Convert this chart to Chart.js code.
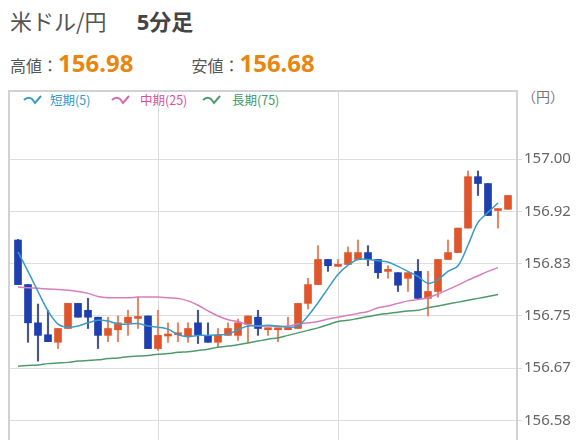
<!DOCTYPE html>
<html>
<head>
<meta charset="utf-8">
<script src="https://cdn.jsdelivr.net/npm/chart.js@4.4.0/dist/chart.umd.min.js"></script>
<style>
html, body { margin: 0; padding: 0; background: #fff; overflow: hidden; width: 576px; height: 440px;
  font-family: "Noto Sans", "Noto Sans CJK JP", sans-serif; }
#title { position: absolute; left: 10px; top: 4px; font-size: 22px; color: #555; white-space: nowrap; font-family: "Noto Sans CJK JP", sans-serif; }
#title b { margin-left: 30px; color: #444; font-family: "Noto Sans", "Noto Sans CJK JP", sans-serif; }
#hilo { position: absolute; left: 10px; top: 46px; white-space: nowrap; color: #555; font-size: 16px; }
#hilo .k { font-family: "Noto Sans CJK JP", sans-serif; }
#hilo .v { font-size: 24px; font-weight: bold; color: #e8860f; font-family: "Noto Sans", sans-serif; }
#hilo .gap { display: inline-block; width: 58px; }
.lg { position: absolute; top: 90px; font-size: 12.5px; white-space: nowrap; font-family: "Noto Sans CJK JP", sans-serif; }
.lg svg { position: absolute; top: 3px; }
#unit { position: absolute; left: 522px; top: 86px; font-size: 14px; color: #777; font-family: "Noto Sans CJK JP", sans-serif; }
#wrap { position: absolute; left: 0; top: 80px; width: 576px; height: 390px; }
</style>
</head>
<body>
<div id="title">米ドル/円<b>5分足</b></div>
<div id="hilo"><span class="k">高値：</span><span class="v">156.98</span><span class="gap"></span><span class="k">安値：</span><span class="v">156.68</span></div>
<div class="lg" style="left:23px"><svg width="21" height="12"><path d="M1 7 Q5 3 9 6 L12 10 L18 3" fill="none" stroke="#3b9ac7" stroke-width="2"/></svg><span style="position:absolute;left:27px;color:#2f98cf">短期(5)</span></div>
<div class="lg" style="left:111px"><svg width="21" height="12"><path d="M1 7 Q5 3 9 6 L12 10 L18 3" fill="none" stroke="#d868ad" stroke-width="2"/></svg><span style="position:absolute;left:29px;color:#e0509a">中期(25)</span></div>
<div class="lg" style="left:202px"><svg width="21" height="12"><path d="M1 7 Q5 3 9 6 L12 10 L18 3" fill="none" stroke="#4f9a6d" stroke-width="2"/></svg><span style="position:absolute;left:30px;color:#3c9a68">長期(75)</span></div>
<div id="unit">（円）</div>
<div id="wrap"><canvas id="candleChart" width="576" height="390"></canvas></div>
<script>
// 5分足 ローソク足データ
const opens = [156.871, 156.800, 156.739, 156.720, 156.708, 156.730, 156.770, 156.759, 156.748, 156.719,
  156.728, 156.739, 156.746, 156.750, 156.698, 156.718, 156.720, 156.717, 156.739, 156.719,
  156.708, 156.719, 156.719, 156.737, 156.748, 156.728, 156.728, 156.728, 156.730, 156.770,
  156.800, 156.840, 156.829, 156.832, 156.840, 156.851, 156.840, 156.821, 156.819, 156.810,
  156.821, 156.778, 156.789, 156.840, 156.851, 156.890, 156.972, 156.961, 156.918, 156.920];
const highs = [156.872, 156.800, 156.769, 156.759, 156.730, 156.770, 156.770, 156.778, 156.748, 156.748,
  156.750, 156.759, 156.780, 156.750, 156.759, 156.739, 156.739, 156.739, 156.759, 156.739,
  156.730, 156.739, 156.745, 156.750, 156.759, 156.731, 156.731, 156.748, 156.770, 156.810,
  156.862, 156.840, 156.840, 156.860, 156.871, 156.862, 156.840, 156.830, 156.819, 156.819,
  156.840, 156.821, 156.840, 156.871, 156.890, 156.981, 156.981, 156.961, 156.920, 156.942];
const lows = [156.800, 156.708, 156.678, 156.709, 156.698, 156.730, 156.748, 156.730, 156.698, 156.709,
  156.709, 156.719, 156.730, 156.698, 156.695, 156.708, 156.709, 156.708, 156.706, 156.708,
  156.700, 156.719, 156.711, 156.708, 156.719, 156.719, 156.709, 156.728, 156.730, 156.761,
  156.800, 156.821, 156.829, 156.832, 156.840, 156.830, 156.810, 156.810, 156.789, 156.789,
  156.778, 156.750, 156.780, 156.840, 156.851, 156.890, 156.942, 156.910, 156.890, 156.920];
const closes = [156.800, 156.739, 156.719, 156.709, 156.730, 156.770, 156.748, 156.748, 156.719, 156.730,
  156.739, 156.748, 156.749, 156.698, 156.719, 156.720, 156.723, 156.730, 156.720, 156.708,
  156.719, 156.730, 156.739, 156.750, 156.730, 156.731, 156.731, 156.731, 156.770, 156.800,
  156.840, 156.830, 156.831, 156.851, 156.851, 156.840, 156.819, 156.823, 156.799, 156.819,
  156.778, 156.789, 156.840, 156.851, 156.890, 156.972, 156.961, 156.910, 156.920, 156.942];

// 移動平均線
const shortMA = [156.852, 156.821, 156.789, 156.758, 156.737, 156.732, 156.734, 156.739, 156.743, 156.742,
  156.737, 156.737, 156.738, 156.734, 156.732, 156.729, 156.720, 156.717, 156.719, 156.719,
  156.720, 156.721, 156.728, 156.734, 156.734, 156.735, 156.734, 156.732, 156.734, 156.750,
  156.771, 156.794, 156.816, 156.831, 156.840, 156.840, 156.838, 156.836, 156.829, 156.821,
  156.813, 156.802, 156.808, 156.821, 156.830, 156.863, 156.899, 156.915, 156.930, null];
const midMA = [156.796, 156.795, 156.794, 156.793, 156.792, 156.791, 156.789, 156.786, 156.781, 156.779,
  156.779, 156.779, 156.780, 156.780, 156.780, 156.779, 156.778, 156.774, 156.767, 156.758,
  156.750, 156.744, 156.741, 156.736, 156.734, 156.734, 156.733, 156.734, 156.737, 156.739,
  156.741, 156.745, 156.748, 156.751, 156.754, 156.757, 156.763, 156.766, 156.770, 156.774,
  156.776, 156.779, 156.785, 156.792, 156.799, 156.807, 156.814, 156.821, 156.827, null];
const longMA = [156.670, 156.671, 156.672, 156.674, 156.675, 156.676, 156.678, 156.679, 156.680, 156.682,
  156.683, 156.685, 156.686, 156.687, 156.689, 156.690, 156.692, 156.693, 156.695, 156.697,
  156.700, 156.702, 156.704, 156.707, 156.710, 156.713, 156.715, 156.719, 156.723, 156.727,
  156.731, 156.736, 156.741, 156.743, 156.746, 156.749, 156.752, 156.754, 156.756, 156.758,
  156.759, 156.763, 156.766, 156.769, 156.772, 156.775, 156.778, 156.781, 156.784, null];

// 目盛り
const yTicks = [157.0, 156.9167, 156.8333, 156.75, 156.6667, 156.5833];
const xGridAt = [14, 32];

const RED = '#e0562c', BLUE = '#1e3fae';
const isUp = opens.map((o, i) => closes[i] >= o);
const bodies = opens.map((o, i) => ({ x: i, y: [o, closes[i]] }));
const wicks = opens.map((o, i) => ({ x: i, y: [lows[i], highs[i]] }));
const pts = arr => arr.map((v, i) => ({ x: i, y: v }));

// 枠線
const frame = {
  id: 'frame',
  beforeDatasetsDraw(chart) {
    const a = chart.chartArea, ctx = chart.ctx;
    ctx.save();
    ctx.strokeStyle = '#d2d2d2';
    ctx.lineWidth = 2;
    ctx.beginPath();
    ctx.moveTo(a.left, a.bottom + 20);
    ctx.lineTo(a.left, a.top);
    ctx.lineTo(a.right, a.top);
    ctx.lineTo(a.right, a.bottom + 20);
    ctx.stroke();
    ctx.restore();
  }
};

const ctx = document.getElementById('candleChart').getContext('2d');
const candleChart = new Chart(ctx, {
  type: 'bar',
  data: {
    datasets: [
      { type: 'line', label: '短期(5)', data: pts(shortMA), borderColor: '#3b9ac7', borderWidth: 1.5, pointRadius: 0, tension: 0.35, order: 0 },
      { type: 'line', label: '中期(25)', data: pts(midMA), borderColor: '#d77fbd', borderWidth: 1.5, pointRadius: 0, tension: 0.35, order: 0 },
      { type: 'line', label: '長期(75)', data: pts(longMA), borderColor: '#4f9a6d', borderWidth: 1.5, pointRadius: 0, tension: 0.35, order: 0 },
      { label: 'body', data: bodies, backgroundColor: isUp.map(u => u ? RED : BLUE), barThickness: 7, minBarLength: 2, grouped: false, order: 1 },
      { label: 'wick', data: wicks, backgroundColor: isUp.map(u => u ? '#e58a68' : '#4a5686'), barThickness: 1.5, grouped: false, order: 2 }
    ]
  },
  options: {
    responsive: false,
    animation: false,
    devicePixelRatio: 1,
    layout: { padding: { top: 7, left: 9, right: 0, bottom: 10 } },
    plugins: { legend: { display: false }, tooltip: { enabled: false } },
    scales: {
      x: {
        type: 'linear',
        min: -0.9,
        max: 49.9,
        offset: false,
        afterBuildTicks: s => { s.ticks = xGridAt.map(v => ({ value: v })); },
        ticks: { display: false },
        grid: { color: '#dcdcdc', drawTicks: false, offset: false },
        border: { display: false }
      },
      y: {
        position: 'right',
        min: 156.522,
        max: 157.1085,
        afterBuildTicks: s => { s.ticks = yTicks.map(v => ({ value: v })); },
        afterFit: s => { s.width = 59; },
        ticks: {
          callback: v => v.toFixed(2),
          color: '#666',
          padding: 2,
          font: { size: 15, family: '"Noto Sans", sans-serif' }
        },
        grid: { color: '#dedede', tickLength: 5 },
        border: { display: false }
      }
    }
  },
  plugins: [frame]
});
</script>
</body>
</html>
